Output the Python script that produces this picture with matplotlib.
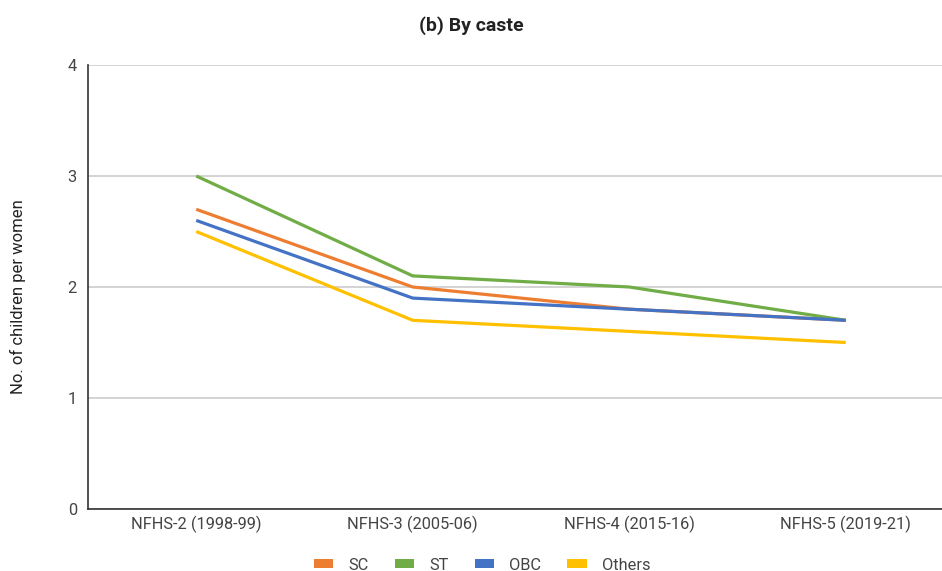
import matplotlib.pyplot as plt
from matplotlib.patches import Patch

surveys = ['NFHS-2 (1998-99)', 'NFHS-3 (2005-06)', 'NFHS-4 (2015-16)', 'NFHS-5 (2019-21)']
sc = [2.7, 2.0, 1.8, 1.7]
st = [3.0, 2.1, 2.0, 1.7]
obc = [2.6, 1.9, 1.8, 1.7]
others = [2.5, 1.7, 1.6, 1.5]

series = [('SC', sc, '#ED7D31'), ('ST', st, '#70AD47'),
          ('OBC', obc, '#4472C4'), ('Others', others, '#FFC000')]

plt.rcParams['font.family'] = ['Roboto', 'DejaVu Sans']

fig = plt.figure(figsize=(9.42, 5.71), dpi=100)
# plot area runs a little past the right edge of the canvas
ax = fig.add_axes([88 / 942, 1 - 509 / 571, 866 / 942, 444 / 571])

x = range(len(surveys))
for name, vals, color in series:
    ax.plot(x, vals, color=color, linewidth=2.3, solid_capstyle='butt')

ax.set_xlim(-0.5, len(surveys) - 0.5)
ax.set_ylim(0, 4)
ax.set_yticks([0, 1, 2, 3, 4])
ax.set_xticks(list(x))
ax.set_xticklabels(surveys)
ax.tick_params(axis='both', length=0, labelsize=11.8, colors='#444444', pad=5)
ax.tick_params(axis='y', pad=8)
ax.grid(axis='y', color='#cccccc', linewidth=1.2)
ax.set_axisbelow(True)
for side in ['top', 'right']:
    ax.spines[side].set_visible(False)
for side in ['left', 'bottom']:
    ax.spines[side].set_color('#333333')
    ax.spines[side].set_linewidth(1.2)

fig.text(18 / 942, 1 - 297 / 571, 'No. of children per women', rotation=90,
         ha='center', va='center', fontsize=12, color='#222222')
fig.text(0.5, 1 - 26 / 571, '(b) By caste', ha='center', va='center',
         fontsize=14, fontweight='bold', color='#222222')

handles = [Patch(facecolor=c, label=n) for n, _, c in series]
fig.legend(handles=handles, loc='center', bbox_to_anchor=(482 / 942, 1 - 565 / 571),
           ncol=4, frameon=False, fontsize=11.8, handlelength=1.2, handleheight=0.45,
           columnspacing=1.6, handletextpad=0.9, labelcolor='#444444')

fig.savefig('out.png', dpi=100)
